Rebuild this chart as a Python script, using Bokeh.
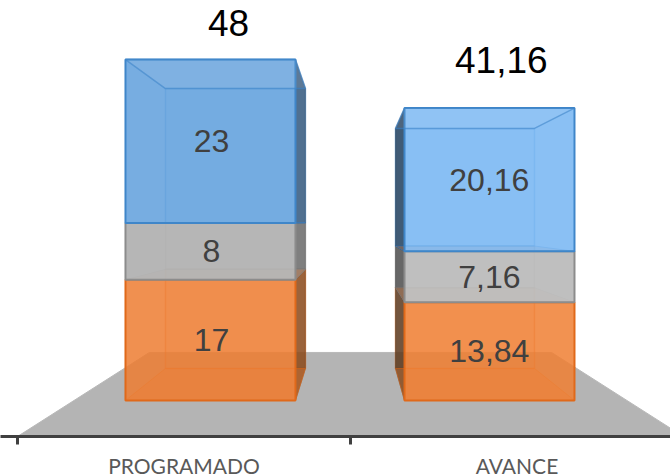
from bokeh.plotting import figure
from bokeh.models import Range1d, LinearAxis, FixedTicker, ColumnDataSource
from bokeh.embed import file_html
from bokeh.resources import INLINE
from bokeh.core.properties import value

categories = ["PROGRAMADO", "AVANCE"]
orange_vals = [17, 13.84]
gray_vals = [8, 7.16]
blue_vals = [23, 20.16]
totals = [48, 41.16]

def lab(v):
    return f"{v:g}".replace(".", ",")

# layout of the 3D look
front_edges = [(-0.1757, 0.3348), (0.6622, 1.1727)]
back_edges = [(-0.0556, 0.3649), (0.6351, 1.0526)]
label_x = [0.0826, 0.917]
total_x = [0.1336, 0.953]
total_off = [-37, -48]
DEPTH_BASE, DEPTH_SCALE = 4.505, 0.8211

def back(v):
    return DEPTH_BASE + DEPTH_SCALE * v

p = figure(frame_width=670, frame_height=436, output_backend="svg", toolbar_location=None,
           x_range=Range1d(-0.551, 1.461), y_range=Range1d(-5.07, 56.31),
           x_axis_location=None, y_axis_location=None,
           min_border_left=0, min_border_right=0, min_border_top=0, min_border_bottom=0)
p.outline_line_color = None
p.grid.visible = False

# floor
p.patch([-0.5, -0.104, 1.104, 1.5], [-5.07, 6.76, 6.76, -5.07], fill_color="#b4b4b4", line_color="#b8b8b8", line_width=1)

series = [("orange", orange_vals, ["#ed7d31", "#f07f33"], "#e0691a", ["#8a4a1c", "#5a3a20"]),
          ("gray", gray_vals, ["#b2b2b2", "#bcbcbc"], "#8c8c8c", ["#6a6a6a", "#4e4e4e"]),
          ("blue", blue_vals, ["#5f9fdc", "#75b5f2"], "#3f86c9", ["#35587c", "#213f5e"])]
alpha = {"orange": 0.85, "gray": 0.95, "blue": 0.85}

for b in range(2):
    fl, fr = front_edges[b]
    bl, br = back_edges[b]
    base = 0.0
    for name, vals, cols, edge, darks in series:
        col, dark = cols[b], darks[b]
        v = vals[b]
        top = base + v
        # back wall
        p.patch([bl, br, br, bl], [back(base), back(base), back(top), back(top)],
                fill_color=col, fill_alpha=0.12, line_color=edge, line_alpha=0.45, line_width=1.5)
        # side faces
        if b == 0:
            sx = [fr, br, br, fr]
        else:
            sx = [fl, bl, bl, fl]
        p.patch(sx, [base, back(base), back(top), top], fill_color=dark, fill_alpha=0.85,
                line_color=dark, line_alpha=0.5, line_width=1)
        # floor plate of this segment
        p.patch([fl, fr, br, bl], [base, base, back(base), back(base)],
                fill_color=series[0][2][b] if base > 0 else col, fill_alpha=0.3, line_color=edge,
                line_alpha=0.5, line_width=1)
        # front face
        p.patch([fl, fr, fr, fl], [base, base, top, top], fill_color=col, fill_alpha=alpha[name],
                line_color=edge, line_width=2)
        # inner perspective edges
        if name == "blue":
            p.patch([fl, fr, br, bl], [top, top, back(top), back(top)], fill_color="#ffffff", fill_alpha=0.06,
                    line_color=edge, line_alpha=0.6, line_width=1.5)
        base = top

# value labels
xs, ys, ts = [], [], []
for b in range(2):
    base = 0.0
    for vals in (orange_vals, gray_vals, blue_vals):
        xs.append(label_x[b]); ys.append(base + vals[b] / 2); ts.append(lab(vals[b]))
        base += vals[b]
p.text(xs, ys, text=ts, text_align="center", text_baseline="middle", text_color="#404040",
       text_font=value("Liberation Sans"), text_font_size="32px")

# totals
src = ColumnDataSource(dict(x=total_x, y=totals, t=[lab(t) for t in totals], off=total_off))
p.text("x", "y", text="t", y_offset="off", source=src, text_align="center", text_baseline="middle",
       text_color="#000000", text_font=value("Liberation Sans"), text_font_size="37px")

ax = LinearAxis(ticker=FixedTicker(ticks=[0, 1], minor_ticks=[-0.5, 0.5, 1.5]),
                major_label_overrides={i: c for i, c in enumerate(categories)})
ax.axis_line_color = "#404040"
ax.axis_line_width = 3
ax.major_tick_line_color = None
ax.minor_tick_line_color = "#404040"
ax.minor_tick_line_width = 3
ax.minor_tick_in = 0
ax.minor_tick_out = 8
ax.major_tick_out = 0
ax.major_tick_in = 0
ax.major_label_text_font = "Lato"
ax.major_label_text_font_size = "21px"
ax.major_label_text_color = "#595959"
ax.major_label_standoff = 8
p.add_layout(ax, "below")

open("out.html", "w").write(file_html(p, INLINE))
